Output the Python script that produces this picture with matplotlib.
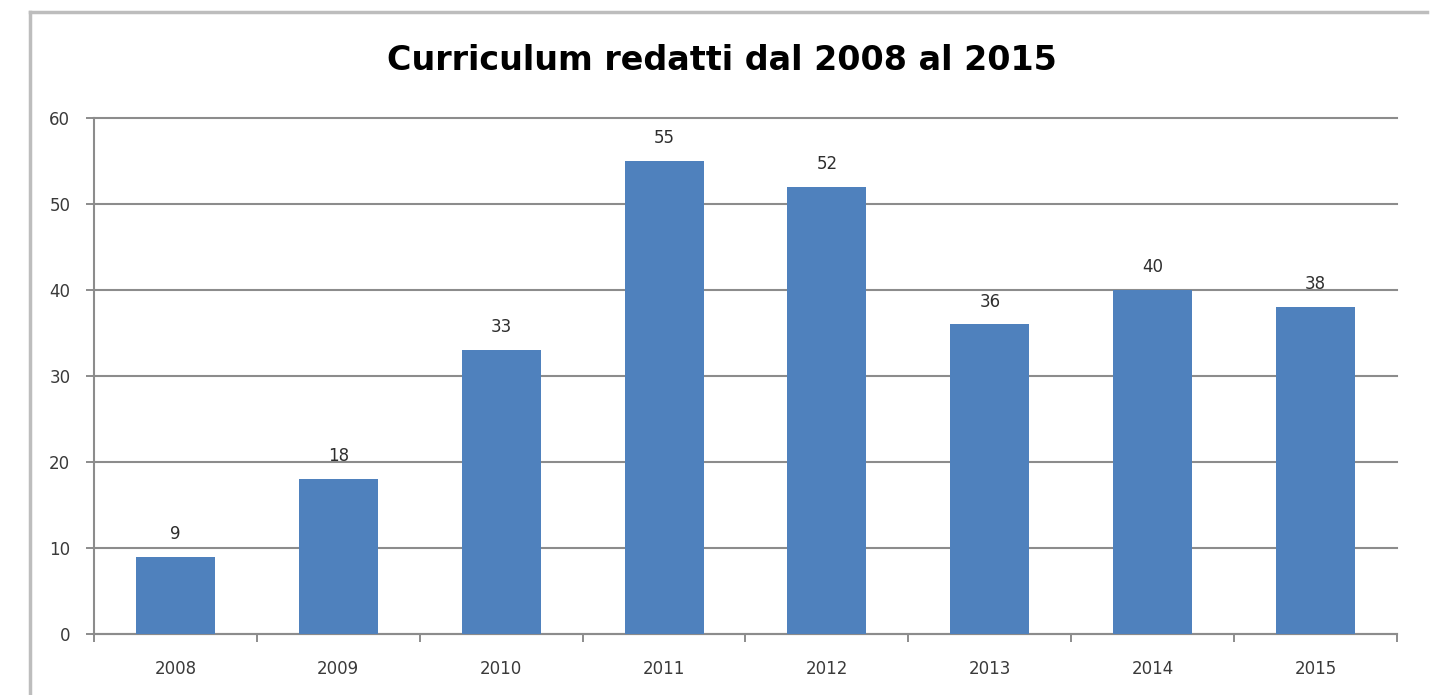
import numpy as np
import matplotlib
matplotlib.use("Agg")
import matplotlib.pyplot as plt
from matplotlib.lines import Line2D

years = ["2008", "2009", "2010", "2011", "2012", "2013", "2014", "2015"]
cv_count = [9, 18, 33, 55, 52, 36, 40, 38]
y_ticks = [0, 10, 20, 30, 40, 50, 60]

bar_color = "#4F81BD"
grid_color = "#8C8C8C"
text_color = "#3A3A3A"

fig = plt.figure(figsize=(14.39, 6.95), dpi=100)
ax = fig.add_axes([0.0653, 0.0878, 0.9055, 0.7422])

x = np.arange(len(years))
ax.bar(x, cv_count, width=0.485, color=bar_color, zorder=3)

# value labels above the bars
for i, v in enumerate(cv_count):
    ax.annotate(str(v), (x[i], v), xytext=(0, 10), textcoords="offset points",
                ha="center", va="bottom", fontsize=12, color="#2E2E2E")

ax.set_xlim(-0.5, len(years) - 0.5)
ax.set_ylim(0, 60)
ax.set_yticks(y_ticks)
ax.set_xticks(x)
ax.set_xticklabels(years)
ax.set_xticks(np.arange(len(years) + 1) - 0.5, minor=True)

ax.yaxis.grid(True, color=grid_color, linewidth=1.5, zorder=0)
ax.set_axisbelow(True)
for gl in ax.get_ygridlines():
    gl.set_clip_on(False)
for side in ["top", "right"]:
    ax.spines[side].set_visible(False)
for side in ["left", "bottom"]:
    ax.spines[side].set_color(grid_color)
    ax.spines[side].set_linewidth(1.5)

ax.tick_params(axis="y", length=6, width=1.4, color=grid_color, pad=11,
               labelsize=12, labelcolor=text_color)
ax.tick_params(axis="x", which="major", length=0, pad=19,
               labelsize=12, labelcolor=text_color)
ax.tick_params(axis="x", which="minor", length=6, width=1.4, color=grid_color)

fig.text(0.502, 0.913, "Curriculum redatti dal 2008 al 2015", ha="center",
         va="center", fontsize=24, fontweight="bold", color="black")

# chart frame (left and top edges)
frame_kw = dict(color="#BDBDBD", linewidth=2.5, transform=fig.transFigure)
fig.add_artist(Line2D([30 / 1439, 30 / 1439], [0, 1 - 12 / 695], **frame_kw))
fig.add_artist(Line2D([30 / 1439, 1427 / 1439], [1 - 12 / 695, 1 - 12 / 695], **frame_kw))

fig.savefig("out.png", dpi=100)
